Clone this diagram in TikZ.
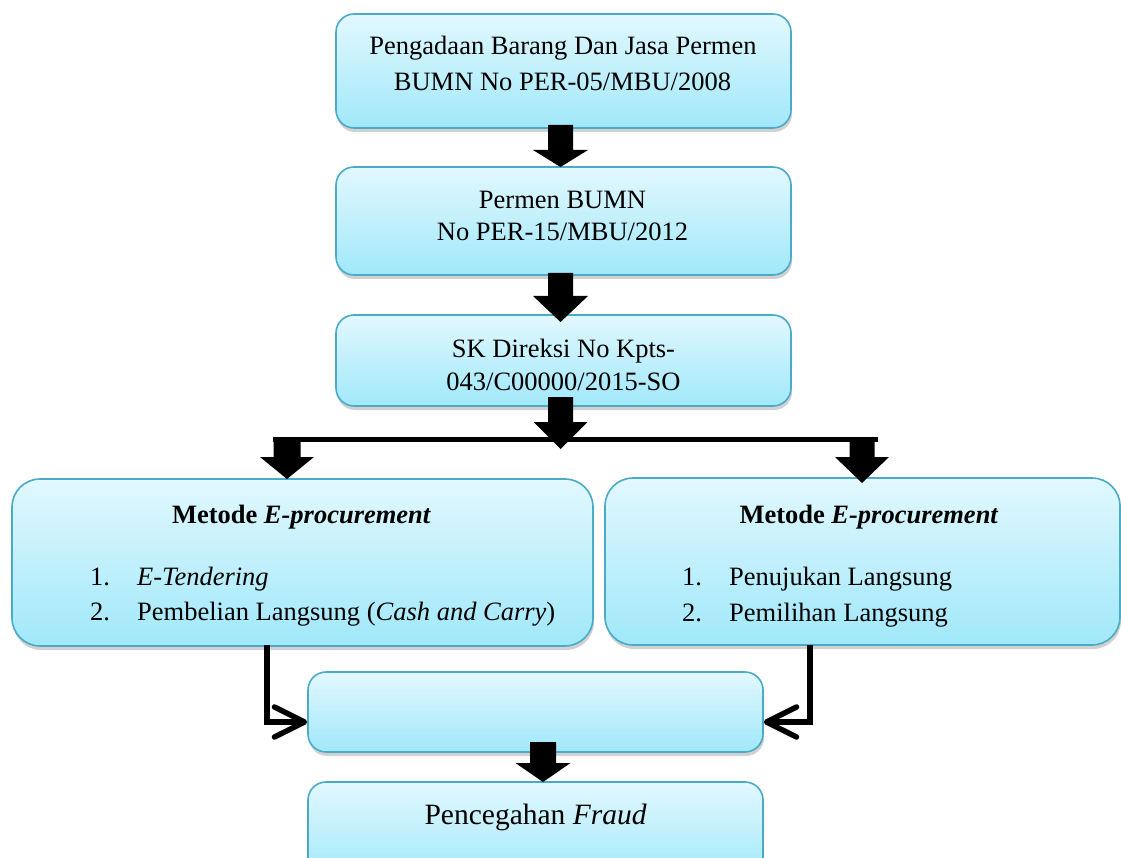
\documentclass[tikz,border=0pt]{standalone}
\usepackage{fontspec}
\setmainfont{Liberation Serif}
\usetikzlibrary{arrows.meta,shadows,calc}
\definecolor{boxtop}{RGB}{226,248,254}
\definecolor{boxbot}{RGB}{160,232,250}
\definecolor{boxline}{RGB}{75,170,198}
\tikzset{
 box/.style={draw=boxline, line width=1.6pt, top color=boxtop, bottom color=boxbot,
   rounded corners=18pt, inner sep=0pt,
   drop shadow={shadow xshift=1pt, shadow yshift=-4pt, opacity=0.3, fill=black!60}},
 bigbox/.style={box, rounded corners=28pt},
 txt/.style={inner sep=0pt, anchor=base, font=\fontsize{26.5}{30}\selectfont},
 txtl/.style={txt, anchor=base west},
 conn/.style={line width=5.5pt, -{Straight Barb[length=30pt,width=30pt,round]}},
}
\newcommand\blockarr[6]{\fill (#1-#2,#3) -- (#1+#2,#3) -- (#1+#2,#4) -- (#1+#6,#4) -- (#1,#5) -- (#1-#6,#4) -- (#1-#2,#4) -- cycle;}
\begin{document}
\begin{tikzpicture}[x=1pt,y=-1pt]
\useasboundingbox (0,0) rectangle (1121,858);
\clip (0,0) rectangle (1121,858);
% boxes
\node[box, minimum width=455pt, minimum height=114pt] (b1) at (563.5,71) {};
\node[box, minimum width=455pt, minimum height=108pt] (b2) at (563.5,221) {};
\node[box, minimum width=455pt, minimum height=91pt] (b3) at (563.5,360.5) {};
\node[bigbox, minimum width=581pt, minimum height=167pt] (bL) at (302.5,562.5) {};
\node[bigbox, minimum width=515pt, minimum height=167pt] (bR) at (862.5,561.5) {};
\node[box, minimum width=455pt, minimum height=80pt] (b4) at (535.5,712) {};
\node[box, minimum width=455pt, minimum height=100pt] (b5) at (535.5,832) {};
% texts
\node[txt] (t1a) at (563,55) {Pengadaan Barang Dan Jasa Permen};
\node[txt] (t1b) at (562.5,90.5) {BUMN No PER-05/MBU/2008};
\node[txt] (t2a) at (562.5,209) {Permen BUMN};
\node[txt] (t2b) at (562.5,240.5) {No PER-15/MBU/2012};
\node[txt] (t3a) at (563.5,357) {SK Direksi No Kpts-};
\node[txt] (t3b) at (563.5,390) {043/C00000/2015-SO};
\node[txt] (tLh) at (301.5,523) {\bfseries Metode \textit{E-procurement}};
\node[txtl] (tL1n) at (90,585) {1.};
\node[txtl] (tL1) at (137,585) {\textit{E-Tendering}};
\node[txtl] (tL2n) at (90,620) {2.};
\node[txtl] (tL2) at (137,620) {Pembelian Langsung (\textit{Cash and Carry})};
\node[txt] (tRh) at (869,523) {\bfseries Metode \textit{E-procurement}};
\node[txtl] (tR1n) at (682,585) {1.};
\node[txtl] (tR1) at (729,585) {Penujukan Langsung};
\node[txtl] (tR2n) at (682,621) {2.};
\node[txtl] (tR2) at (729,621) {Pemilihan Langsung};
\node[txt, font=\fontsize{29.5}{33}\selectfont] (t5) at (535.6,824) {Pencegahan \textit{Fraud}};
% block arrows
\blockarr{560.5}{12.5}{125}{150}{167}{27.5}
\blockarr{560.5}{12.5}{273}{296}{322}{27.5}
\blockarr{560.5}{12.5}{397}{422}{449}{27}
\fill (273,437) rectangle (878,442);
\blockarr{287}{13.5}{437}{457}{479}{27}
\blockarr{862}{12.5}{437}{457}{483}{27}
\blockarr{543}{13}{742}{763}{782}{27.5}
% connectors
\coordinate (cL) at (267,645);
\coordinate (cR) at (810,645);
\draw[conn] (cL) |- ($(b4.west)+(0,10)$);
\draw[conn] (cR) |- ($(b4.east)+(0,10)$);
\end{tikzpicture}
\end{document}
